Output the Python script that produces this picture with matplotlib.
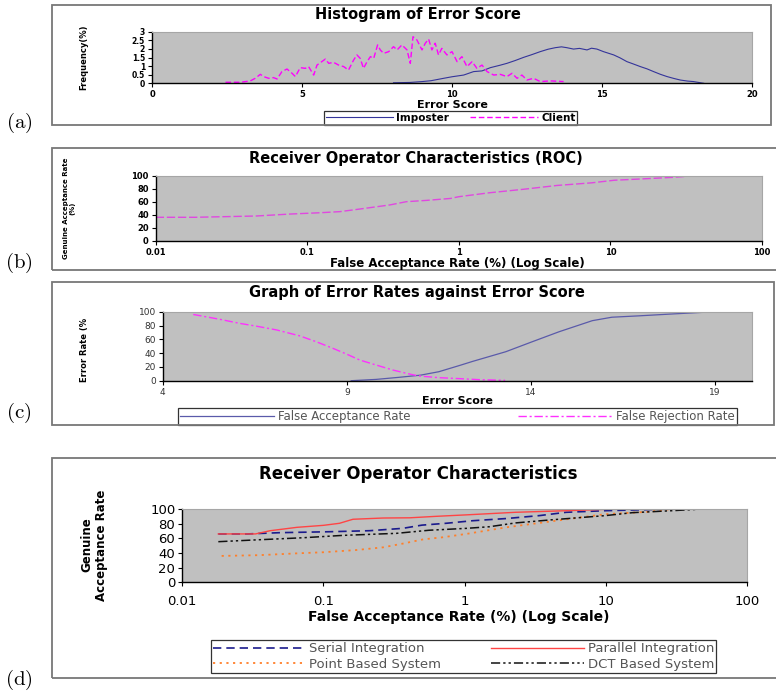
import matplotlib
matplotlib.use('Agg')
import matplotlib.pyplot as plt
from matplotlib.ticker import FixedLocator, FixedFormatter, NullLocator
from matplotlib.patches import Rectangle

W, H = 776, 698
plt.rcParams['mathtext.fontset'] = 'cm'
plt.rcParams['font.family'] = ['DejaVu Sans']

# ---------------- data ----------------
# (a) histogram of error score
client_x = [2.45, 2.7, 2.95, 3.28, 3.44, 3.61, 3.72, 3.89, 4.05, 4.17, 4.33, 4.5, 4.67, 4.78,
            4.94, 5.11, 5.22, 5.39, 5.5, 5.66, 5.78, 5.89, 6.05, 6.22, 6.39, 6.55, 6.72, 6.83,
            6.94, 7.05, 7.17, 7.28, 7.39, 7.52, 7.61, 7.72, 7.89, 8.05, 8.17, 8.33, 8.5, 8.61,
            8.7, 8.83, 9.0, 9.11, 9.22, 9.33, 9.44, 9.55, 9.66, 9.83, 10.0, 10.17, 10.33, 10.5,
            10.67, 10.83, 11.0, 11.17, 11.39, 11.61, 11.83, 12.0, 12.17, 12.33, 12.5, 12.72,
            12.94, 13.28, 13.72]
client_y = [0.06, 0.06, 0.06, 0.14, 0.29, 0.52, 0.39, 0.29, 0.33, 0.25, 0.68, 0.83, 0.58, 0.39,
            0.91, 0.87, 0.97, 0.48, 1.06, 1.26, 1.41, 1.16, 1.22, 1.06, 0.97, 0.77, 1.35, 1.65,
            1.45, 0.87, 1.26, 1.55, 1.45, 2.23, 1.94, 1.74, 1.84, 2.13, 1.94, 2.23, 1.94, 1.16,
            2.71, 2.52, 1.94, 2.33, 2.57, 1.94, 2.33, 1.65, 2.03, 1.65, 1.84, 1.26, 1.55, 0.97,
            1.26, 0.87, 1.06, 0.68, 0.48, 0.52, 0.39, 0.58, 0.29, 0.48, 0.19, 0.29,
            0.1, 0.14, 0.1]
imp_x = [8.05, 8.6, 9.0, 9.3, 9.72, 10.0, 10.39, 10.72, 11.0, 11.28, 11.6, 11.83, 12.1, 12.39,
         12.65, 12.94, 13.2, 13.44, 13.65, 13.83, 14.05, 14.25, 14.5, 14.65, 14.83, 15.05,
         15.39, 15.6, 15.83, 16.05, 16.28, 16.5, 16.72, 16.95, 17.17, 17.4, 17.61, 17.85,
         18.05, 18.39]
imp_y = [0.03, 0.05, 0.1, 0.15, 0.29, 0.38, 0.48, 0.68, 0.72, 0.91, 1.05, 1.16, 1.32, 1.51,
         1.66, 1.84, 1.98, 2.07, 2.12, 2.07, 1.99, 2.03, 1.94, 2.04, 1.99, 1.84,
         1.65, 1.48, 1.26, 1.12, 0.97, 0.84, 0.68, 0.52, 0.39, 0.28, 0.19, 0.13,
         0.1, 0.0]
a_xticks = [0, 5, 10, 15, 20]
a_yticks = [0, 0.5, 1, 1.5, 2, 2.5, 3]
a_ylabels = ['0', '0.5', '1', '1.5', '2', '2.5', '3']

# (b) ROC
roc_far = [0.01, 0.018, 0.046, 0.077, 0.121, 0.164, 0.222, 0.35, 0.45, 0.61, 0.88, 1.0, 1.6,
           2.64, 4.45, 7.5, 10.6, 16, 26, 36, 100]
roc_gar = [36, 36, 38, 41, 43, 44.7, 48.7, 55, 60, 62, 65, 67.7, 73.8,
           79, 85, 89, 93, 95, 97.5, 100, 100]
log_ticks = [0.01, 0.1, 1, 10, 100]
log_labels = ['0.01', '0.1', '1', '10', '100']
pct_ticks = [0, 20, 40, 60, 80, 100]

# (c) error rates vs error score
frr_x = [4.83, 5.55, 6.1, 6.55, 7.1, 7.72, 8.17, 8.62, 8.99, 9.35, 9.8, 10.25, 10.7, 10.97,
         11.5, 12.06, 12.6, 13.3]
frr_y = [96, 89, 83, 79, 73.5, 65, 56.5, 47, 38.7, 30, 22.7, 15.5, 9.7, 6.8,
         4.4, 3, 1.5, 0.5]
far_x = [9.12, 9.8, 10.4, 11.0, 11.5, 12.06, 12.42, 13.32, 14.04, 14.77, 15.67, 16.2, 16.94,
         17.84, 19.0]
far_y = [0, 1.9, 4.8, 8, 13, 22, 28, 42, 56.5, 71, 87, 92, 94, 96.7, 100]
c_xticks = [4, 9, 14, 19]

# (d) ROC comparison
serial_x = [0.018, 0.029, 0.049, 0.111, 0.213, 0.365, 0.5, 0.74, 1.14, 1.98, 3.4, 5.25, 10, 29.6, 100]
serial_y = [66, 66, 67.7, 69, 70.4, 73.6, 78, 80.5, 84, 87, 91, 95.5, 97.7, 100, 100]
parallel_x = [0.018, 0.033, 0.042, 0.065, 0.1, 0.13, 0.162, 0.265, 0.41, 0.63, 1.03, 2.3, 5.3, 11.8, 100]
parallel_y = [66, 66, 70.4, 75, 77.7, 80.5, 86, 87.7, 88, 90, 92, 95.5, 97.7, 100, 100]
point_x = [0.019, 0.035, 0.065, 0.1, 0.17, 0.265, 0.37, 0.51, 0.70, 1.03, 1.98, 3.4, 5.8, 10, 20.6, 29.6, 100]
point_y = [36, 37, 39.5, 41, 44, 47.7, 53, 58.6, 61.4, 66, 75, 81, 87, 93, 96.3, 100, 100]
dct_x = [0.018, 0.032, 0.072, 0.137, 0.33, 0.56, 1.03, 1.5, 2.3, 4.0, 10, 15.5, 29.6, 49, 100]
dct_y = [55.4, 57.7, 60.8, 64, 66.8, 71, 73.6, 75.8, 81, 85, 91, 95, 97.7, 100, 100]

# ---------------- figure ----------------
fig = plt.figure(figsize=(W / 100, H / 100), dpi=100)
fig.patch.set_facecolor('white')


def px_axes(l, t, r, b):
    return fig.add_axes([l / W, 1 - b / H, (r - l) / W, (b - t) / H])


def ftext(x, y, s, **kw):
    kw.setdefault('ha', 'center')
    kw.setdefault('va', 'center')
    return fig.text(x / W, 1 - y / H, s, **kw)


def frame(l, t, r, b):
    fig.add_artist(Rectangle((l / W, 1 - b / H), (r - l) / W, (b - t) / H,
                             transform=fig.transFigure, fill=False, ec='#777777', lw=1.3))


def style(ax, tickfs, tickw='bold', tickc='black'):
    ax.set_facecolor('#c0c0c0')
    for s in ['top', 'right']:
        ax.spines[s].set_color('#a6a6a6')
        ax.spines[s].set_linewidth(0.8)
    for s in ['left', 'bottom']:
        ax.spines[s].set_color('black')
        ax.spines[s].set_linewidth(1.0)
    ax.tick_params(direction='out', length=3, width=0.8, labelsize=tickfs, pad=2,
                   labelcolor=tickc)
    for lab in ax.get_xticklabels() + ax.get_yticklabels():
        lab.set_fontweight(tickw)


def legend(ax, handles, labels, l, t, r, b, fs, ncol, hl, tc='black', weight='normal',
           expand=True, cs=0.5):
    if expand:
        anchor = (l / W, 1 - b / H, (r - l) / W, (b - t) / H)
        mode = 'expand'
    else:
        anchor = ((l + r) / 2 / W, 1 - (t + b) / 2 / H)
        mode = None
    leg = ax.legend(handles, labels, loc='center', bbox_to_anchor=anchor,
                    bbox_transform=fig.transFigure, mode=mode, ncol=ncol,
                    frameon=True, fancybox=False, borderpad=0.15, handlelength=hl,
                    handletextpad=0.3, columnspacing=cs, labelspacing=0.2,
                    prop={'size': fs, 'weight': weight}, borderaxespad=0)
    fr = leg.get_frame()
    fr.set_edgecolor('black')
    fr.set_linewidth(0.9)
    fr.set_facecolor('white')
    for tx in leg.get_texts():
        tx.set_color(tc)
    return leg


narrow = ['Liberation Sans Narrow', 'DejaVu Sans']

# ---- frames
frame(52, 5, 771, 125)
frame(52, 148, 800, 270)
frame(52, 282, 774, 425)
frame(52, 458, 800, 678)

# ---- (a)
axa = px_axes(152, 31.7, 752, 83.3)
axa.plot(imp_x, imp_y, color='#34349a', lw=0.8, label='Imposter')
axa.plot(client_x, client_y, color='#ff00ff', lw=1.0, dashes=(4, 2), label='Client')
axa.set_xlim(0, 20)
axa.set_ylim(0, 3)
axa.xaxis.set_major_locator(FixedLocator(a_xticks))
axa.yaxis.set_major_locator(FixedLocator(a_yticks))
axa.yaxis.set_major_formatter(FixedFormatter(a_ylabels))
style(axa, 6)
axa.tick_params(axis='y', labelsize=5.5)
ftext(418, 14, 'Histogram of Error Score', fontsize=10.5, fontweight='bold')
ftext(452, 104.5, 'Error Score', fontsize=8, fontweight='bold')
ftext(84, 57, 'Frequency(%)', fontsize=6, fontweight='bold', rotation=90, family=narrow)
ha_, la_ = axa.get_legend_handles_labels()
legend(axa, ha_, la_, 313, 112.5, 588, 123.5, 7.5, 2, 6.5, weight='bold', expand=False, cs=2)

# ---- (b)
axb = px_axes(155.7, 175.7, 762, 240.7)
axb.plot(roc_far, roc_gar, color='#e048e0', lw=1.0, dashes=(6, 2))
axb.set_xscale('log')
axb.set_xlim(0.01, 100)
axb.set_ylim(0, 100)
axb.xaxis.set_major_locator(FixedLocator(log_ticks))
axb.xaxis.set_major_formatter(FixedFormatter(log_labels))
axb.xaxis.set_minor_locator(NullLocator())
axb.yaxis.set_major_locator(FixedLocator(pct_ticks))
style(axb, 6)
ftext(416, 159, 'Receiver Operator Characteristics (ROC)', fontsize=10.5, fontweight='bold')
ftext(457, 263, 'False Acceptance Rate (%) (Log Scale)', fontsize=8.5, fontweight='bold')
ftext(69, 208, 'Genuine Acceptance Rate\n(%)', fontsize=5, fontweight='bold', rotation=90,
      family=narrow, multialignment='center', linespacing=1.1)

# ---- (c)
axc = px_axes(162.7, 311.7, 751.7, 380.7)
axc.plot(far_x, far_y, color='#5a5aaa', lw=0.9, label='False Acceptance Rate')
axc.plot(frr_x, frr_y, color='#ff30ff', lw=1.0, dashes=(6, 2, 1.5, 2), label='False Rejection Rate')
axc.set_xlim(4, 20)
axc.set_ylim(0, 100)
axc.xaxis.set_major_locator(FixedLocator(c_xticks))
axc.yaxis.set_major_locator(FixedLocator(pct_ticks))
style(axc, 6.5, tickw='normal', tickc='#333333')
ftext(417, 292, 'Graph of Error Rates against Error Score', fontsize=10.5, fontweight='bold')
ftext(457, 401.5, 'Error Score', fontsize=8, fontweight='bold')
ftext(84, 350, 'Error Rate (%', fontsize=6, fontweight='bold', rotation=90, family=narrow)
hc_, lc_ = axc.get_legend_handles_labels()
legend(axc, hc_, lc_, 178, 411, 737, 422, 8.5, 2, 8, tc='#555555')

# ---- (d)
axd = px_axes(182.3, 509, 746.7, 582.3)
axd.plot(serial_x, serial_y, color='#1a1a8c', lw=1.2, dashes=(5, 3), label='Serial Integration')
axd.plot(parallel_x, parallel_y, color='#ff4444', lw=1.0, label='Parallel Integration')
axd.plot(point_x, point_y, color='#ff7f2a', lw=1.3, dashes=(1.2, 2.5), label='Point Based System')
axd.plot(dct_x, dct_y, color='#111111', lw=1.1, dashes=(6, 2, 1.5, 2, 1.5, 2), label='DCT Based System')
axd.set_xscale('log')
axd.set_xlim(0.01, 100)
axd.set_ylim(0, 100)
axd.xaxis.set_major_locator(FixedLocator(log_ticks))
axd.xaxis.set_major_formatter(FixedFormatter(log_labels))
axd.xaxis.set_minor_locator(NullLocator())
axd.yaxis.set_major_locator(FixedLocator(pct_ticks))
style(axd, 9.5, tickw='normal')
axd.tick_params(axis='x', pad=6)
ftext(418, 474, 'Receiver Operator Characteristics', fontsize=12, fontweight='bold')
ftext(459, 617, 'False Acceptance Rate (%) (Log Scale)', fontsize=10, fontweight='bold')
ftext(94, 545, 'Genuine\nAcceptance Rate', fontsize=8.5, fontweight='bold', rotation=90,
      multialignment='center', linespacing=1.1)
hd_, ld_ = axd.get_legend_handles_labels()
order = [0, 2, 1, 3]  # row-wise reading order: Serial, Parallel / Point, DCT
legend(axd, [hd_[i] for i in order], [ld_[i] for i in order], 211, 638, 716, 675, 9.5, 2, 7,
       tc='#555555')

# ---- panel labels
for lab, y in [('(a)', 123), ('(b)', 263), ('(c)', 413), ('(d)', 680)]:
    ftext(19, y, r'$\mathrm{' + lab + '}$', fontsize=15)

fig.savefig('out.png', dpi=100)
